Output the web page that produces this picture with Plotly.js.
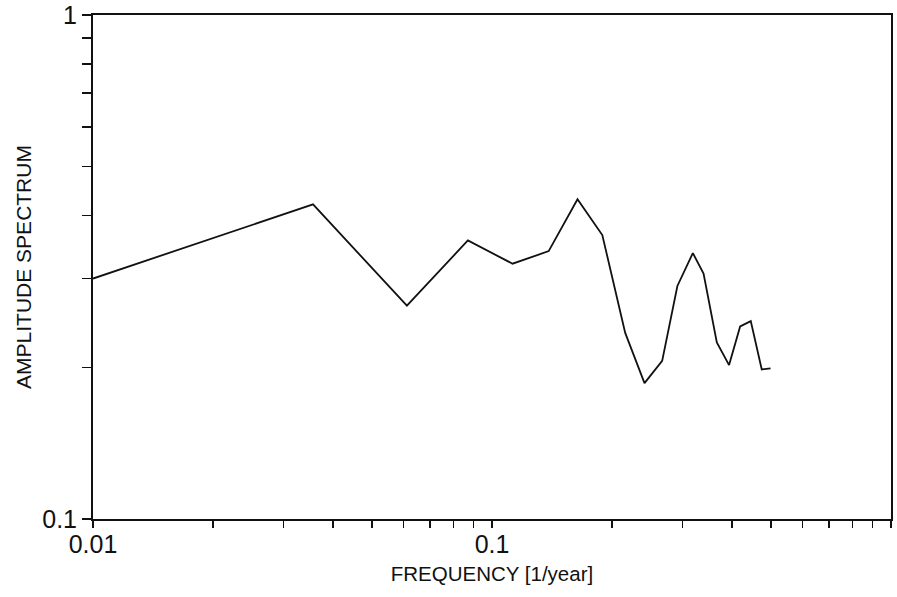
<!DOCTYPE html>
<html>
<head>
<meta charset="utf-8">
<script src="https://cdn.plot.ly/plotly-3.0.1.min.js"></script>
<style>
  html, body { margin: 0; padding: 0; background: #fff; }
  #chart { width: 897px; height: 597px; }
</style>
</head>
<body>
<div id="chart"></div>
<script>
// Frequency [1/year]
const frequency = [0.01, 0.0356, 0.0612, 0.0870, 0.1126, 0.1387, 0.1638, 0.1890, 0.2157, 0.2411,
                   0.2670, 0.2915, 0.3187, 0.3390, 0.3660, 0.3928, 0.4187, 0.4452, 0.4743, 0.4990];
// Amplitude spectrum
const amplitude = [0.300, 0.421, 0.265, 0.357, 0.321, 0.340, 0.431, 0.366, 0.234, 0.186,
                   0.206, 0.290, 0.337, 0.307, 0.224, 0.202, 0.241, 0.247, 0.198, 0.199];

const xTickVals = [0.01,0.02,0.03,0.04,0.05,0.06,0.07,0.08,0.09,
                   0.1,0.2,0.3,0.4,0.5,0.6,0.7,0.8,0.9,1];
const xTickText = ['0.01','','','','','','','','',
                   '0.1','','','','','','','','','1'];
const yTickVals = [0.1,0.2,0.3,0.4,0.5,0.6,0.7,0.8,0.9,1];
const yTickText = ['0.1','','','','','','','','','1'];

const fontFam = '"Liberation Sans", Arial, sans-serif';

const trace = {
  x: frequency,
  y: amplitude,
  type: 'scatter',
  mode: 'lines',
  line: { color: '#111', width: 1.8 },
  hoverinfo: 'skip'
};

const layout = {
  width: 897,
  height: 597,
  margin: { l: 92.5, r: 6, t: 14.5, b: 77.5 },
  paper_bgcolor: '#fff',
  plot_bgcolor: '#fff',
  showlegend: false,
  font: { family: fontFam, color: '#111' },
  xaxis: {
    type: 'log',
    range: [-2, 0],
    tickmode: 'array',
    tickvals: xTickVals,
    ticktext: xTickText,
    ticks: 'outside',
    ticklen: 7,
    tickwidth: 1.5,
    tickcolor: '#111',
    ticklabelstandoff: -5,
    showline: true,
    linecolor: '#111',
    linewidth: 2,
    mirror: true,
    showgrid: false,
    zeroline: false,
    tickfont: { size: 25, family: fontFam, color: '#111' },
    title: { text: 'FREQUENCY [1/year]', font: { size: 20.5, family: fontFam, color: '#111' }, standoff: 10 },
    automargin: false
  },
  yaxis: {
    type: 'log',
    range: [-1, 0],
    tickmode: 'array',
    tickvals: yTickVals,
    ticktext: yTickText,
    ticks: 'outside',
    ticklen: 9,
    tickwidth: 1.5,
    tickcolor: '#111',
    showline: true,
    linecolor: '#111',
    linewidth: 2,
    mirror: true,
    showgrid: false,
    zeroline: false,
    tickfont: { size: 25, family: fontFam, color: '#111' },
    title: { text: 'AMPLITUDE SPECTRUM', font: { size: 21, family: fontFam, color: '#111' }, standoff: 5 },
    automargin: false
  }
};

Plotly.newPlot('chart', [trace], layout, { displayModeBar: false, staticPlot: true });
</script>
</body>
</html>
